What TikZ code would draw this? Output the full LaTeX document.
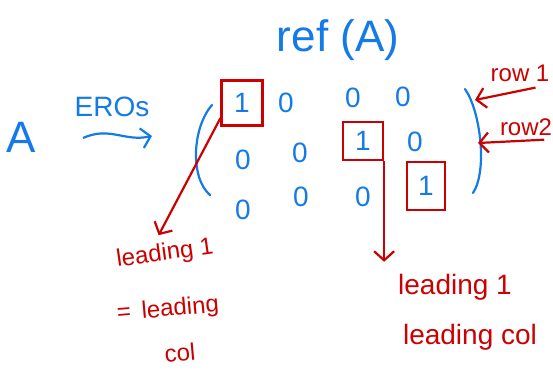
\documentclass[tikz,border=0pt]{standalone}
\usepackage{fontspec}
\setmainfont{Liberation Sans}
\usetikzlibrary{shapes,arrows,arrows.meta}
\definecolor{penblue}{RGB}{20,122,232}
\definecolor{penred}{RGB}{204,0,0}
\tikzstyle{entry} = [text=penblue, font=\fontsize{28}{30}\selectfont, inner sep=0pt]
\tikzstyle{pivot} = [entry, draw=penred, line width=2.2pt]
\tikzstyle{note} = [text=penred, font=\fontsize{24}{26}\selectfont, inner sep=0pt]
\tikzstyle{bluepen} = [draw=penblue, line width=2.2pt]
\tikzstyle{redpen} = [draw=penred, line width=2.2pt]

\begin{document}
\begin{tikzpicture}[x=1pt, y=-1pt, >={Straight Barb[length=9pt,width=20pt]}]
 \useasboundingbox (0,0) rectangle (553,371);
 % nodes
    \node [entry, font=\fontsize{44}{46}\selectfont, name=mat] at (21,137) {A};
    \node [entry, name=eros] at (112,107) {EROs};
    \node [entry, font=\fontsize{44}{46}\selectfont, name=ref] at (338,40) {ref (A)};
    % matrix
    \node [pivot, minimum width=41pt, minimum height=45pt, name=box1] at (242,103) {1};
    \node [entry, name=a12] at (286,103) {0};
    \node [entry, name=a13] at (353,98) {0};
    \node [entry, name=a14] at (403,97) {0};
    \node [entry, name=a21] at (243,160) {0};
    \node [entry, name=a22] at (300,153) {0};
    \node [pivot, minimum width=40pt, minimum height=38pt, name=box2] at (363,141) {1};
    \node [entry, name=a24] at (415,142) {0};
    \node [entry, name=a31] at (243,210) {0};
    \node [entry, name=a32] at (301,197) {0};
    \node [entry, name=a33] at (363,197) {0};
    \node [pivot, minimum width=38pt, minimum height=48pt, name=box3] at (426,186) {1};
    % red notes
    \node [note, rotate=8, name=lead1] at (165,254) {leading 1};
    \node [note, rotate=5, name=eqcol] at (168,310) {=\hspace{4pt} leading};
    \node [note, rotate=5, name=col] at (180,353) {col};
    \node [note, font=\fontsize{28}{30}\selectfont, name=lead2] at (455,287) {leading 1};
    \node [note, font=\fontsize{28}{30}\selectfont, name=leadcol] at (470,337) {leading col};
    \node [note, name=row1] at (520,73) {row 1};
    \node [note, name=row2] at (526,127) {row2};
    % brackets and free ends
    \coordinate (lpt) at (212,105);
    \coordinate (lpb) at (210,195);
    \coordinate (rpt) at (465,89);
    \coordinate (rpb) at (473,193);
    \coordinate (rp1) at (475,100);
    \coordinate (rp2) at (478,143);
    \coordinate (eroL) at (83,138);
    \coordinate (eroR) at (152,136);
    \draw [bluepen, line cap=round] (lpt) .. controls (192,128) and (190,178) .. (lpb);
    \draw [bluepen, line cap=round] (rpt) .. controls (480,110) and (488,170) .. (rpb);
    % edges
    \draw [bluepen, ->] (eroL) .. controls (110,126) and (124,142) .. (eroR);
    \draw [redpen, ->, shorten >=10pt] (box1.215) -- (lead1.130);
    \draw [redpen, ->, shorten >=12pt] (box2.south east) -- (box2.south east |- lead2.north);
    \draw [redpen, ->] ([xshift=-14pt,yshift=-6pt]row1.south east) -- (rp1);
    \draw [redpen, ->] ([xshift=-8pt,yshift=-4pt]row2.south east) -- (rp2);

\end{tikzpicture}
\end{document}
